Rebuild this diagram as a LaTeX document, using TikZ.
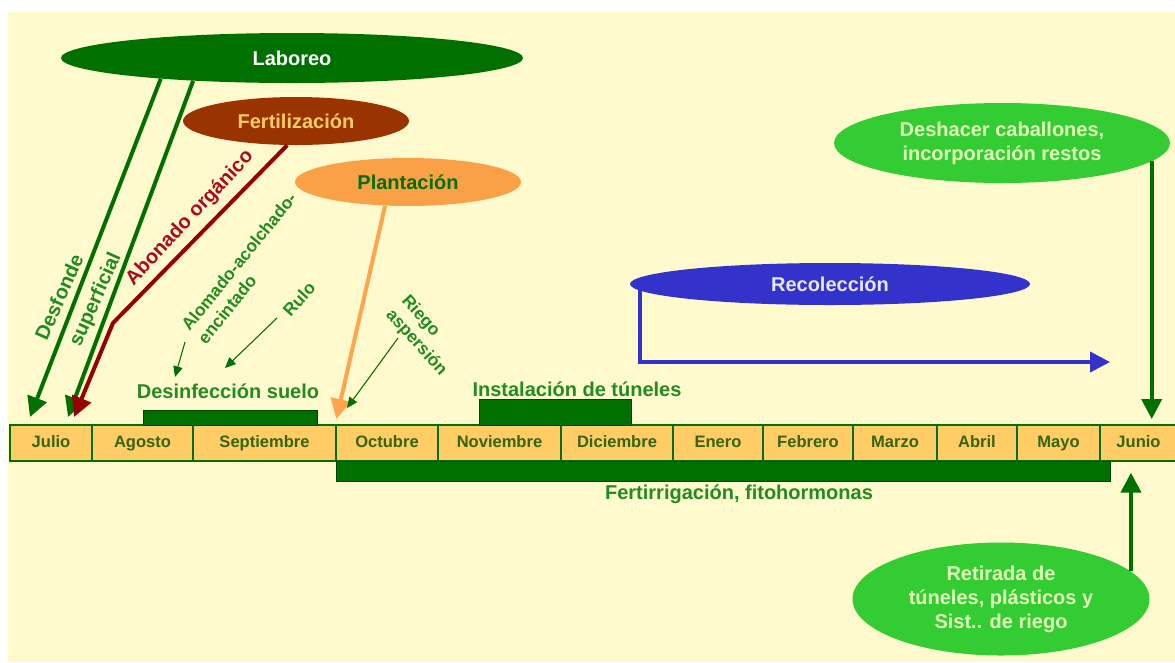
\documentclass[tikz,border=0pt]{standalone}
\usepackage{fontspec}
\setmainfont{Liberation Sans}
\usetikzlibrary{shapes.geometric,arrows.meta,positioning}

\definecolor{fondo}{RGB}{255,250,205}
\definecolor{verdeosc}{RGB}{0,112,0}
\definecolor{verdetxt}{RGB}{34,139,34}
\definecolor{mestxt}{RGB}{55,100,15}
\definecolor{mesfill}{RGB}{255,204,102}
\definecolor{marron}{RGB}{153,51,0}
\definecolor{granate}{RGB}{150,0,0}
\definecolor{rojotxt}{RGB}{170,10,30}
\definecolor{naranja}{RGB}{250,160,70}
\definecolor{naranjaflecha}{RGB}{255,165,80}
\definecolor{verdeclaro}{RGB}{51,204,51}
\definecolor{verdepalido}{RGB}{225,255,185}
\definecolor{azul}{RGB}{51,51,204}
\definecolor{azulclaro}{RGB}{230,230,255}

\begin{document}
\begin{tikzpicture}[x=0.75pt, y=-0.75pt,
    month/.style={draw=verdeosc, line width=1.5pt, fill=mesfill, text=mestxt, inner sep=0pt,
        minimum height=27pt, text height=9pt, text depth=2.5pt,
        font=\bfseries\fontsize{12.4}{14}\selectfont},
    bar/.style={fill=verdeosc, draw=verdeosc!60!black, inner sep=0pt},
    task/.style={ellipse, inner sep=0pt, align=center, font=\bfseries\fontsize{15}{18}\selectfont},
    lbl/.style={text=verdetxt, inner sep=1pt, font=\bfseries\fontsize{15}{18}\selectfont},
    small/.style={text=verdetxt, inner sep=1pt, align=left, font=\bfseries\fontsize{13}{15.75}\selectfont},
    thickarr/.style={line width=3pt, -{Triangle[length=15pt,width=15pt]}},
    thinarr/.style={line width=0.8pt, verdeosc, -{Triangle[length=8pt,width=7pt]}}]
    % strawberry crop calendar
    \useasboundingbox (0,0) rectangle (1175,662);
    \fill[white] (0,0) rectangle (1175,662);
    \fill[fondo] (8,12) rectangle (1175,662);

    % months
    \node[month, minimum width=61.5pt] (julio) at (51,443) {Julio};
    \node[month, minimum width=75.75pt] (agosto) at (142.5,443) {Agosto};
    \node[month, minimum width=107.25pt] (septiembre) at (264.5,443) {Septiembre};
    \node[month, minimum width=76.5pt] (octubre) at (387,443) {Octubre};
    \node[month, minimum width=92.25pt] (noviembre) at (499.5,443) {Noviembre};
    \node[month, minimum width=84pt] (diciembre) at (617,443) {Diciembre};
    \node[month, minimum width=67.5pt] (enero) at (718,443) {Enero};
    \node[month, minimum width=67.5pt] (febrero) at (808,443) {Febrero};
    \node[month, minimum width=63pt] (marzo) at (895,443) {Marzo};
    \node[month, minimum width=60pt] (abril) at (977,443) {Abril};
    \node[month, minimum width=62.25pt] (mayo) at (1058.5,443) {Mayo};
    \node[month, minimum width=57.75pt] (junio) at (1138.5,443) {Junio};

    % bars
    \node[bar, minimum width=130.5pt, minimum height=11.25pt] (desinfbar) at (230,417.5) {};
    \node[bar, minimum width=114pt, minimum height=19.5pt] (tunelbar) at (555,412) {};
    \node[bar, minimum width=580.5pt, minimum height=15pt] (fertibar) at (723,471) {};
    \node[lbl] (desinf) at (228,391) {Desinfección suelo};
    \node[lbl] (tuneles) at (577,389) {Instalación de túneles};
    \node[lbl] (fertirr) at (739,494) {Fertirrigación, fitohormonas};

    % tasks
    \node[task, fill=verdeosc, text=white, minimum width=346.5pt, minimum height=37.5pt] (laboreo) at (292,58) {Laboreo};
    \node[task, fill=marron, text=mesfill, minimum width=169.5pt, minimum height=36pt] (fert) at (296,121) {Fertilización};
    \node[task, fill=naranja, text=verdeosc, minimum width=169.5pt, minimum height=36pt] (plant) at (408,182) {Plantación};
    \node[task, fill=azul, text=azulclaro, minimum width=300pt, minimum height=31.5pt] (recol) at (830,284) {Recolección};
    \node[task, fill=verdeclaro, text=verdepalido, minimum width=252pt, minimum height=60pt] (deshacer) at (1002,143) {Deshacer caballones,\\incorporación restos};
    \node[task, fill=verdeclaro, text=verdepalido, minimum width=222.75pt, minimum height=84.75pt] (retirada) at (1001,599) {Retirada de\\túneles, plásticos y\\Sist.. de riego};

    % slanted labels
    \node[lbl, rotate=66] (desfonde) at (59,297) {Desfonde};
    \node[lbl, rotate=66] (superf) at (96,300) {superficial};
    \node[lbl, text=rojotxt, rotate=47] (abonado) at (190,218) {Abonado orgánico};
    \node[small, rotate=51] (alomado) at (247,268) {Alomado-acolchado-\\encintado};
    \node[small, rotate=48] (rulo) at (299,299) {Rulo};
    \node[small, rotate=-48] (riego) at (424,336) {Riego\\aspersión};

    \coordinate (abbend) at (113,323);
    \coordinate (recolend) at (1110,362);
    \coordinate (alomadoA) at (185,342);
    \coordinate (alomadoB) at (175,377);
    \coordinate (ruloA) at (277,318);
    \coordinate (ruloB) at (225,368);
    \coordinate (riegoA) at (398,338);
    \coordinate (riegoB) at (347,408);

    \draw[thickarr, verdeosc] (laboreo.189) -- ([xshift=-15.75pt,yshift=5.25pt]julio.north);
    \draw[thickarr, verdeosc] (laboreo.193.5) -- ([xshift=12.75pt,yshift=5.25pt]julio.north);
    \draw[thickarr, granate] (fert.250) -- (abbend) -- ([xshift=17.25pt,yshift=5.25pt]julio.north);
    \draw[thickarr, naranjaflecha] (plant.226) -- ([xshift=1pt,yshift=3.75pt]octubre.north west);
    \draw[thickarr, azul] ([xshift=7.5pt]recol.west) |- (recolend);
    \draw[thickarr, verdeosc, shorten >=3.75pt] (deshacer.-7) -- (deshacer.-7 |- junio.north);
    \draw[thickarr, verdeosc, shorten >=8pt] (retirada.12) -- (retirada.12 |- junio.south);
    \draw[thinarr] (alomadoA) -- (alomadoB);
    \draw[thinarr] (ruloA) -- (ruloB);
    \draw[thinarr] (riegoA) -- (riegoB);
\end{tikzpicture}
\end{document}
